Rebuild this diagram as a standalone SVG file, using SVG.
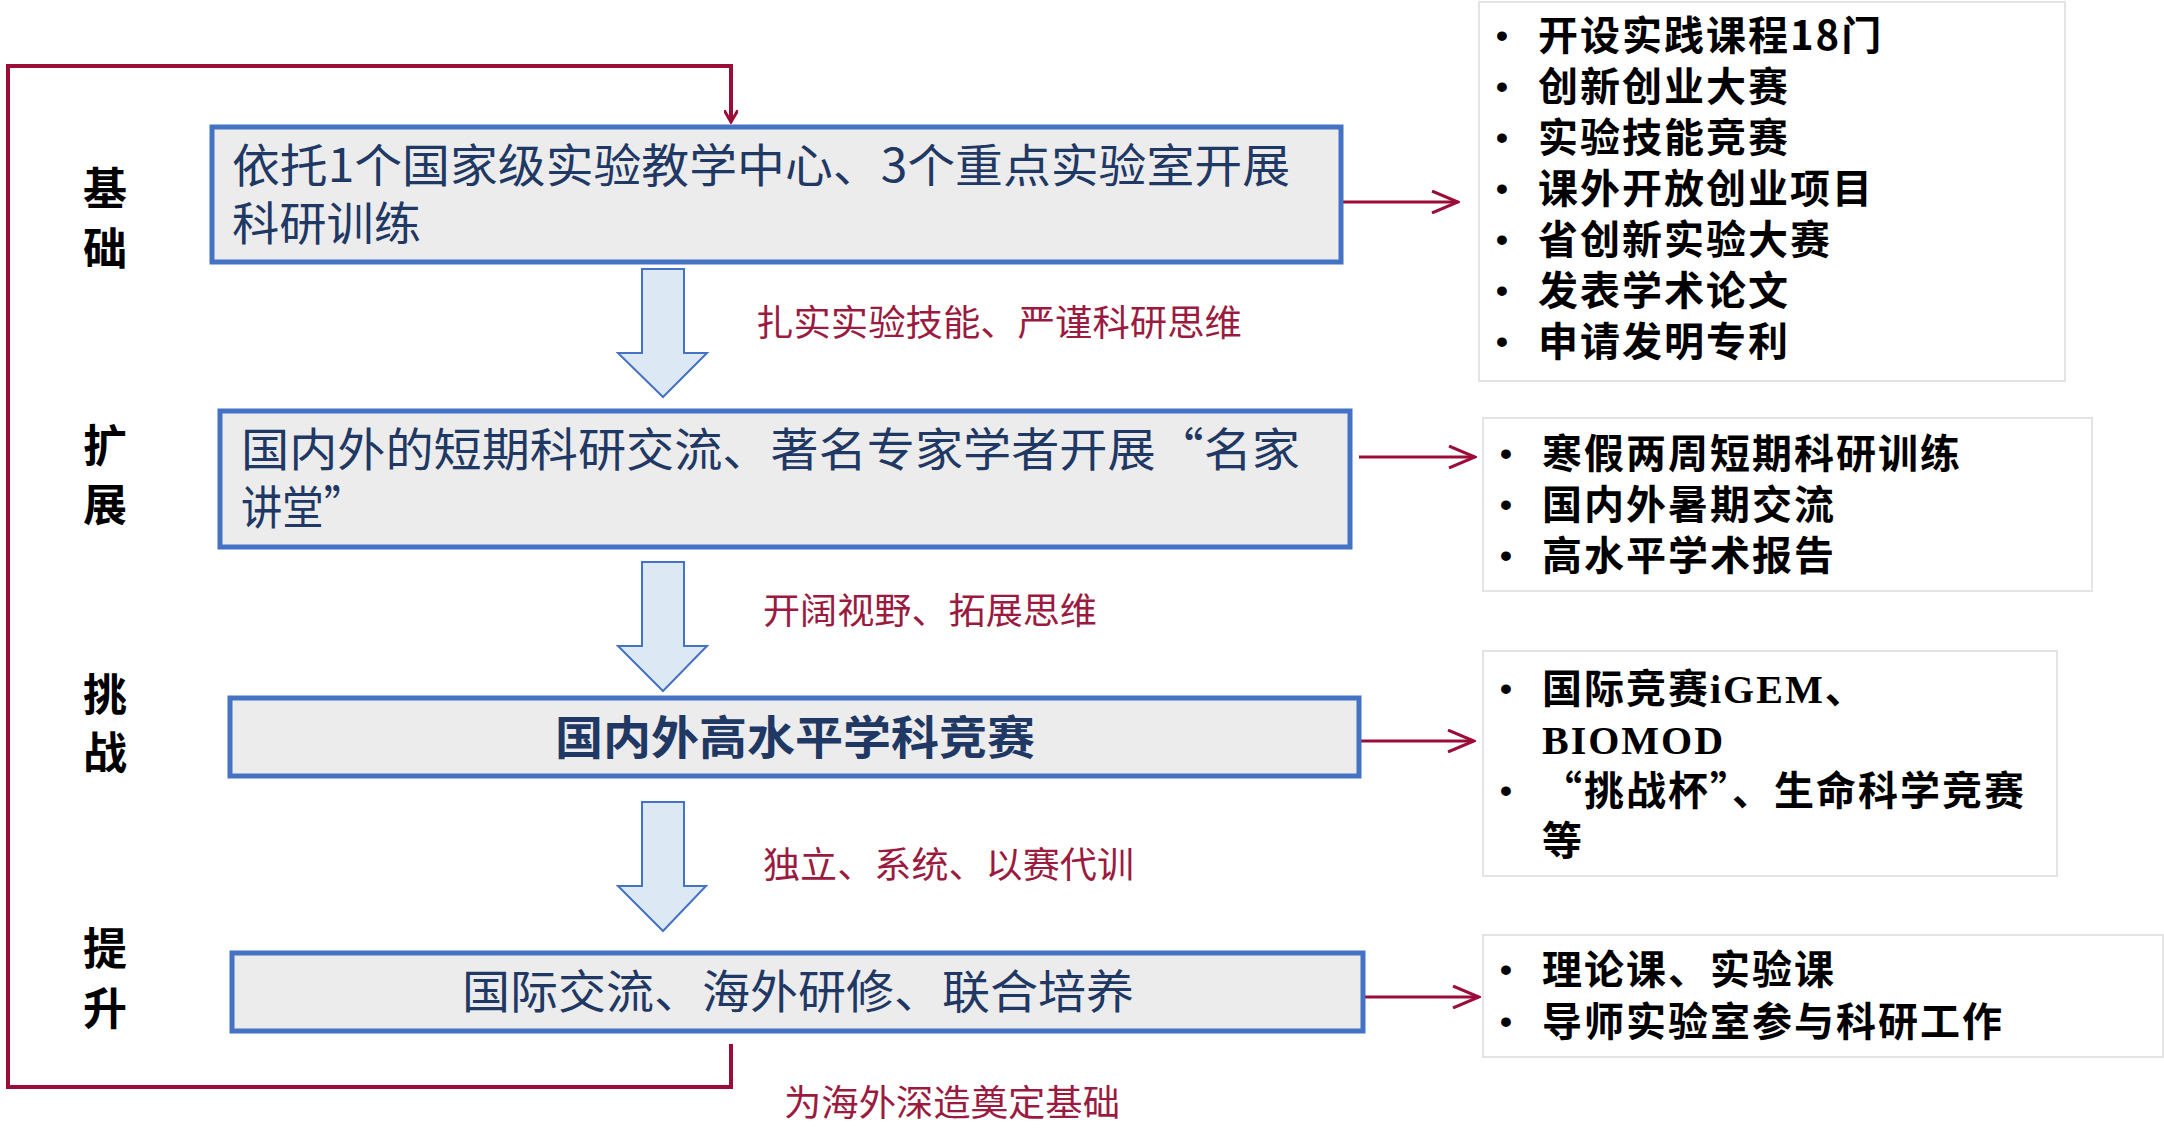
<svg xmlns="http://www.w3.org/2000/svg" width="2164" height="1137" viewBox="0 0 2164 1137">
<style>
.box{fill:#ececec;stroke:#4472c4;stroke-width:5}
.lst{fill:#fff;stroke:#e4e4e4;stroke-width:2}
.bt{font-family:"Noto Sans CJK SC","Liberation Sans",sans-serif;font-size:46px;fill:#1f3864}
.side{font-family:"Noto Sans CJK SC","Liberation Sans",sans-serif;font-size:44px;font-weight:bold;fill:#000;text-anchor:middle}
.red{font-family:"Noto Sans CJK SC","Liberation Serif",serif;font-size:36px;fill:#9b1b40}
.li{font-family:"Noto Sans CJK SC","Liberation Sans",sans-serif;font-size:40px;font-weight:bold;fill:#000;letter-spacing:2px}
.bu{font-family:"Liberation Sans",sans-serif;font-size:34px;font-weight:bold;fill:#000}
.dn{fill:#dde8f5;stroke:#4472c4;stroke-width:2}
.ln{fill:none;stroke:#9b0d38;stroke-width:3}
.fb{fill:none;stroke:#9b0d38;stroke-width:4}
</style>
<defs>
<marker id="ah" markerWidth="14" markerHeight="14" refX="12" refY="7" orient="auto" markerUnits="userSpaceOnUse"><path d="M0,0 L12,7 L0,14" fill="none" stroke="#9b0d38" stroke-width="3"/></marker>
<marker id="ahb" markerWidth="30" markerHeight="24" refX="28" refY="12" orient="auto" markerUnits="userSpaceOnUse"><path d="M2,1 L28,12 L2,23" fill="none" stroke="#9b0d38" stroke-width="3"/></marker>
</defs>
<g id="connectors">
<path class="fb" d="M731,1044 V1087 H8 V66 H731 V122" marker-end="url(#ah)"/>
<path class="ln" d="M1341,202 H1458" marker-end="url(#ahb)"/>
<path class="ln" d="M1359,457 H1475" marker-end="url(#ahb)"/>
<path class="ln" d="M1359,741 H1474" marker-end="url(#ahb)"/>
<path class="ln" d="M1363,997 H1479" marker-end="url(#ahb)"/>
<path class="dn" d="M642,269 H684 V353 H707 L663,397 L618,353 H642 Z"/>
<path class="dn" d="M642,562 H684 V646 H707 L663,691 L618,646 H642 Z"/>
<path class="dn" d="M642,802 H684 V886 H706 L663,931 L618,886 H642 Z"/>
<text class="red" x="756" y="336" textLength="486" lengthAdjust="spacingAndGlyphs">扎实实验技能、严谨科研思维</text>
<text class="red" x="763" y="624" textLength="334" lengthAdjust="spacingAndGlyphs">开阔视野、拓展思维</text>
<text class="red" x="763" y="878" textLength="371" lengthAdjust="spacingAndGlyphs">独立、系统、以赛代训</text>
<text class="red" x="784" y="1116" textLength="336" lengthAdjust="spacingAndGlyphs">为海外深造奠定基础</text>
</g>
<g id="sides">
<text class="side" x="105" y="205">基</text><text class="side" x="105" y="265">础</text>
<text class="side" x="105" y="462">扩</text><text class="side" x="105" y="521">展</text>
<text class="side" x="105" y="711">挑</text><text class="side" x="105" y="769">战</text>
<text class="side" x="105" y="965">提</text><text class="side" x="105" y="1025">升</text>
</g>
<g id="n1"><rect class="box" x="212" y="127" width="1129" height="135"/>
<text class="bt" x="232" y="182" textLength="1058" lengthAdjust="spacingAndGlyphs">依托1个国家级实验教学中心、3个重点实验室开展</text>
<text class="bt" x="232" y="240" textLength="189" lengthAdjust="spacingAndGlyphs">科研训练</text></g>
<g id="n2"><rect class="box" x="220" y="411" width="1130" height="136"/>
<text class="bt" x="241" y="466" textLength="1059" lengthAdjust="spacingAndGlyphs">国内外的短期科研交流、著名专家学者开展“名家</text>
<text class="bt" x="241" y="524" textLength="124" lengthAdjust="spacingAndGlyphs">讲堂”</text></g>
<g id="n3"><rect class="box" x="230" y="698" width="1129" height="78"/>
<text class="bt" x="555" y="754" font-weight="bold" textLength="480" lengthAdjust="spacingAndGlyphs">国内外高水平学科竞赛</text></g>
<g id="n4"><rect class="box" x="232" y="953" width="1131" height="78"/>
<text class="bt" x="462" y="1008" textLength="672" lengthAdjust="spacingAndGlyphs">国际交流、海外研修、联合培养</text></g>
<g id="l1"><rect class="lst" x="1479" y="2" width="586" height="379"/>
<g class="bu">
<text x="1496" y="47">•</text><text x="1496" y="98">•</text><text x="1496" y="149">•</text><text x="1496" y="200">•</text><text x="1496" y="251">•</text><text x="1496" y="302">•</text><text x="1496" y="353">•</text></g>
<g class="li">
<text x="1538" y="50">开设实践课程18门</text>
<text x="1538" y="101">创新创业大赛</text>
<text x="1538" y="152">实验技能竞赛</text>
<text x="1538" y="203">课外开放创业项目</text>
<text x="1538" y="254">省创新实验大赛</text>
<text x="1538" y="305">发表学术论文</text>
<text x="1538" y="356">申请发明专利</text></g></g>
<g id="l2"><rect class="lst" x="1483" y="418" width="609" height="173"/>
<g class="bu"><text x="1500" y="465">•</text><text x="1500" y="516">•</text><text x="1500" y="567">•</text></g>
<g class="li">
<text x="1542" y="468">寒假两周短期科研训练</text>
<text x="1542" y="519">国内外暑期交流</text>
<text x="1542" y="570">高水平学术报告</text></g></g>
<g id="l3"><rect class="lst" x="1483" y="651" width="574" height="225"/>
<g class="bu"><text x="1500" y="700">•</text><text x="1500" y="802">•</text></g>
<g class="li">
<text x="1542" y="703">国际竞赛<tspan font-family="Liberation Serif,serif">iGEM</tspan>、</text>
<text x="1542" y="754" font-family="Liberation Serif,serif">BIOMOD</text>
<text x="1542" y="805">“挑战杯”、生命科学竞赛</text>
<text x="1542" y="855">等</text></g></g>
<g id="l4"><rect class="lst" x="1483" y="935" width="680" height="122"/>
<g class="bu"><text x="1500" y="981">•</text><text x="1500" y="1033">•</text></g>
<g class="li">
<text x="1542" y="984">理论课、实验课</text>
<text x="1542" y="1036">导师实验室参与科研工作</text></g></g>
</svg>
